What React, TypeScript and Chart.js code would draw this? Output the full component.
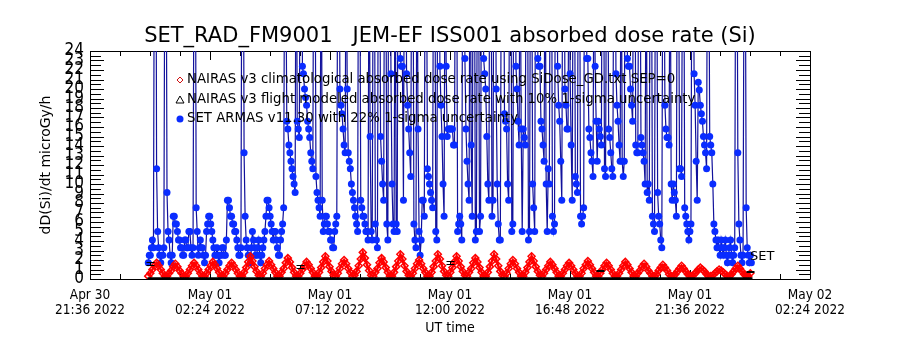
import React, { useEffect, useRef } from "react";
import { Chart, registerables } from "chart.js";

Chart.register(...registerables);

// ---------------- data ----------------
const TITLE = "SET_RAD_FM9001   JEM-EF ISS001 absorbed dose rate (Si)";
const X_TITLE = "UT time";
const Y_TITLE = "dD(Si)/dt microGy/h";

// x axis in hours since 2022-04-30 21:36 UT
const X_MIN = 0;
const X_MAX = 28.8;
const X_TICK_HOURS = [0, 4.8, 9.6, 14.4, 19.2, 24.0, 28.8];
const X_TICK_LABELS = [
  ["Apr 30", "21:36 2022"],
  ["May 01", "02:24 2022"],
  ["May 01", "07:12 2022"],
  ["May 01", "12:00 2022"],
  ["May 01", "16:48 2022"],
  ["May 01", "21:36 2022"],
  ["May 02", "02:24 2022"],
];
const X_MINOR_STEP = 1.2;
const Y_MIN = 0;
const Y_MAX = 24;
const Y_MINOR_STEP = 0.5;

const LEGEND_LABELS = [
  "NAIRAS v3 climatological absorbed dose rate using SiDose_GD.txt SEP=0",
  "NAIRAS v3 flight modeled absorbed dose rate with 10% 1-sigma uncertainty",
  "SET ARMAS v11.30 with 22% 1-sigma uncertainty",
];

// sampling (hours since axis start)
const SERIES_START_HOUR = 2.33;
const SET_STEP_HOURS = 2.5 / 60;
const NAIRAS_STEP_HOURS = 5 / 60;

// SET ARMAS measured dose rate, 2.5-minute cadence (values above 24 run off the top)
const SET_ARMAS = [
  1.7, 2.5, 2.5, 3.3, 4.1, 3.3, 45, 60, 11.6, 5.0, 3.3, 2.5, 1.7, 2.5, 2.5, 3.3, 40, 45, 9.1, 5.0, 4.1, 2.5, 1.7, 2.5,
  6.6, 6.6, 5.8, 5.8, 5.0, 4.1, 4.1, 3.3, 3.3, 2.5, 2.5, 4.1, 4.1, 3.3, 3.3, 5.0, 5.0, 3.3, 2.5, 3.3, 40, 50, 7.5, 5.0,
  2.5, 3.3, 4.1, 3.3, 3.3, 2.5, 1.7, 2.5, 5.0, 5.8, 6.6, 6.6, 5.8, 5.0, 4.1, 3.3, 2.5, 2.5, 3.3, 2.5, 1.7, 2.5, 2.5, 3.3,
  3.3, 2.5, 2.5, 4.1, 8.3, 8.3, 7.5, 6.6, 6.6, 5.8, 5.8, 5.0, 5.0, 4.1, 3.3, 2.5, 2.5, 3.3, 45, 50, 13.3, 6.6, 4.1, 3.3,
  2.5, 2.5, 1.7, 3.3, 5.0, 4.1, 3.3, 2.5, 2.5, 3.3, 4.1, 2.5, 1.7, 2.5, 3.3, 4.1, 5.0, 6.6, 8.3, 8.3, 7.5, 6.6, 5.8, 5.0,
  4.1, 5.0, 5.0, 4.1, 3.3, 2.5, 2.5, 4.1, 5.0, 5.8, 7.5, 40, 35, 16.6, 15.8, 14.1, 13.3, 12.4, 11.6, 10.8, 10.0, 9.1, 45, 16.6,
  15.8, 14.9, 40, 50, 22.4, 21.6, 20.0, 19.1, 18.3, 16.6, 15.8, 14.9, 13.3, 12.4, 11.6, 45, 40, 10.8, 9.1, 8.3, 7.5, 6.6, 45, 8.3,
  5.0, 5.8, 6.6, 6.6, 5.8, 5.0, 5.0, 4.1, 4.1, 3.3, 3.3, 5.0, 5.8, 6.6, 40, 45, 20.0, 18.3, 17.4, 15.8, 14.1, 13.3, 40, 20.0,
  13.3, 12.4, 11.6, 10.0, 9.1, 8.3, 7.5, 6.6, 5.8, 5.0, 45, 40, 8.3, 7.5, 6.6, 6.6, 5.8, 5.0, 5.0, 4.1, 40, 15.0, 5.0, 4.1,
  38, 42, 5.8, 4.1, 3.3, 42, 45, 15.0, 12.4, 10.0, 8.3, 45, 40, 5.8, 4.1, 48, 50, 21.6, 10.0, 5.8, 5.0, 40, 5.8, 5.0,
  50, 45, 23.2, 22.4, 22.4, 8.3, 42, 40, 21.6, 18.3, 15.8, 13.3, 10.8, 40, 45, 5.8, 4.1, 3.3, 40, 15.8, 5.0, 2.5, 4.1, 8.3,
  8.3, 6.6, 45, 40, 11.6, 10.8, 10.0, 9.1, 8.3, 7.5, 44, 45, 5.0, 4.1, 40, 42, 22.4, 18.3, 15.0, 10.0, 6.6, 40, 22.4, 15.0,
  15.8, 15.8, 15.8, 15.8, 15.8, 14.1, 14.1, 42, 40, 5.0, 5.8, 6.6, 5.8, 4.1, 44, 40, 23.2, 15.8, 12.4, 10.0, 8.3, 45, 14.1, 6.6,
  40, 45, 4.1, 5.0, 36, 40, 5.0, 6.6, 40, 44, 23.2, 21.6, 20.0, 15.0, 10.0, 8.3, 45, 40, 6.6, 8.3, 50, 45, 20.0, 10.0,
  5.8, 4.1, 4.1, 38, 40, 42, 17.4, 16.6, 15.8, 10.0, 8.3, 40, 45, 5.0, 5.8, 40, 42, 22.4, 20.0, 16.6, 14.1, 40, 15.8, 5.0,
  15.8, 14.9, 14.1, 44, 40, 4.1, 5.0, 38, 40, 10.0, 7.5, 5.0, 45, 50, 23.2, 22.4, 22.4, 16.6, 15.8, 14.1, 12.4, 40, 10.0, 5.0,
  11.6, 10.0, 40, 45, 6.6, 5.0, 5.8, 42, 40, 22.4, 18.3, 16.6, 12.4, 8.3, 40, 45, 20.0, 18.3, 15.8, 15.8, 40, 21.6, 14.1, 8.3,
  40, 45, 10.8, 10.0, 9.1, 42, 40, 6.6, 5.8, 6.6, 7.5, 44, 45, 23.2, 23.2, 15.8, 14.9, 13.3, 12.4, 10.8, 40, 22.4, 16.6, 12.4,
  16.6, 15.8, 15.0, 14.1, 45, 40, 11.6, 10.8, 38, 40, 15.8, 14.9, 13.3, 11.6, 10.8, 40, 45, 21.6, 18.3, 16.6, 14.1, 12.4, 40, 12.4,
  10.8, 12.4, 45, 40, 23.2, 22.4, 22.4, 20.0, 18.3, 16.6, 40, 45, 14.1, 13.3, 13.3, 42, 40, 14.9, 14.1, 13.3, 12.4, 10.0, 40, 9.1,
  10.0, 8.3, 44, 40, 6.6, 5.8, 5.0, 40, 45, 9.1, 6.6, 5.8, 4.1, 3.3, 38, 40, 18.3, 15.8, 14.9, 14.9, 14.1, 40, 10.0, 8.3,
  10.0, 9.1, 8.3, 6.6, 45, 40, 11.6, 11.6, 10.8, 40, 42, 7.5, 6.6, 5.8, 5.0, 4.1, 5.0, 5.8, 40, 45, 21.6, 18.3, 12.4, 8.3,
  20.7, 19.9, 18.3, 17.4, 16.6, 15.0, 14.1, 13.3, 11.6, 45, 40, 15.0, 14.1, 13.3, 10.0, 5.8, 5.0, 4.1, 3.3, 4.1, 3.3, 2.5, 4.1, 3.3,
  2.5, 3.3, 4.1, 2.5, 1.7, 2.5, 3.3, 4.1, 2.5, 1.7, 2.5, 3.3, 40, 45, 13.3, 5.8, 4.1, 2.5, 1.7, 2.5, 36, 42, 7.5, 3.3,
  2.5, 1.7, 2.5, 1.7,
];

// NAIRAS v3 climatological dose rate, 5-minute cadence (orbital oscillation)
const NAIRAS_CLIM = [
  0.3, 0.6, 1.0, 1.4, 1.7, 1.4, 1.0, 0.6, 0.3,
  0.3, 0.6, 0.9, 1.3, 1.6, 1.3, 0.9, 0.6, 0.3,
  0.3, 0.6, 1.0, 1.4, 1.7, 1.4, 1.0, 0.6, 0.3,
  0.3, 0.6, 1.0, 1.4, 1.8, 1.5, 1.1, 0.7, 0.3,
  0.3, 0.6, 1.0, 1.4, 1.7, 1.4, 1.0, 0.6, 0.3,
  0.3, 0.7, 1.2, 1.8, 2.4, 1.9, 1.3, 0.8, 0.4,
  0.3, 0.6, 1.1, 1.5, 1.9, 1.5, 1.1, 0.7, 0.3,
  0.3, 0.7, 1.1, 1.7, 2.2, 1.8, 1.2, 0.7, 0.3,
  0.3, 0.6, 1.0, 1.4, 1.8, 1.5, 1.1, 0.7, 0.3,
  0.3, 0.7, 1.2, 1.8, 2.4, 1.9, 1.3, 0.8, 0.4,
  0.3, 0.6, 1.1, 1.6, 2.0, 1.6, 1.1, 0.7, 0.3,
  0.4, 0.8, 1.4, 2.1, 2.8, 2.2, 1.5, 0.9, 0.4,
  0.3, 0.7, 1.1, 1.7, 2.2, 1.8, 1.2, 0.7, 0.3,
  0.3, 0.7, 1.3, 1.9, 2.6, 2.1, 1.4, 0.8, 0.4,
  0.3, 0.6, 1.1, 1.6, 2.0, 1.6, 1.1, 0.7, 0.3,
  0.3, 0.7, 1.3, 1.9, 2.6, 2.1, 1.4, 0.8, 0.4,
  0.3, 0.7, 1.2, 1.8, 2.4, 1.9, 1.3, 0.8, 0.4,
  0.3, 0.7, 1.1, 1.7, 2.2, 1.8, 1.2, 0.7, 0.3,
  0.3, 0.7, 1.3, 1.9, 2.6, 2.1, 1.4, 0.8, 0.4,
  0.3, 0.6, 1.1, 1.6, 2.0, 1.6, 1.1, 0.7, 0.3,
  0.3, 0.7, 1.2, 1.8, 2.4, 1.9, 1.3, 0.8, 0.4,
  0.3, 0.6, 1.0, 1.4, 1.8, 1.5, 1.1, 0.7, 0.3,
  0.3, 0.6, 1.0, 1.4, 1.7, 1.4, 1.0, 0.6, 0.3,
  0.3, 0.6, 1.1, 1.5, 1.9, 1.5, 1.1, 0.7, 0.3,
  0.3, 0.6, 1.0, 1.4, 1.7, 1.4, 1.0, 0.6, 0.3,
  0.3, 0.6, 1.0, 1.4, 1.8, 1.5, 1.1, 0.7, 0.3,
  0.3, 0.6, 0.9, 1.3, 1.6, 1.3, 0.9, 0.6, 0.3,
  0.3, 0.5, 0.9, 1.2, 1.5, 1.2, 0.9, 0.5, 0.3,
  0.3, 0.5, 0.8, 1.1, 1.4, 1.1, 0.8, 0.5, 0.3,
  0.3, 0.5, 0.7, 1.0, 1.2, 1.0, 0.8, 0.5, 0.3,
  0.3, 0.4, 0.6, 0.8, 1.0, 0.9, 0.7, 0.5, 0.3,
  0.3, 0.5, 0.8, 1.1, 1.4, 1.1, 0.8, 0.5, 0.3,
  0.3, 0.6,
];

// NAIRAS v3 flight modelled dose rate: near-zero trace plus sparse points with error bars
const FLIGHT_TRACE_HOURS = [2.3, 26.5];
const FLIGHT_TRACE = [0.06, 0.06];
const FLIGHT_POINT_HOURS = [2.4, 8.4, 14.4, 20.4, 26.4];
const FLIGHT_POINTS = [1.6, 1.3, 1.7, 0.9, 0.8];
const FLIGHT_REL_UNC = 0.1;

const SET_LABEL = "SET";
const SET_LABEL_HOUR = 26.4;
const SET_LABEL_VALUE = 2.4;

// ---------------- style ----------------
const FONT_NARROW = "'Liberation Sans Narrow', 'DejaVu Sans Condensed', 'Liberation Sans', sans-serif";
const FONT_WIDE = "'DejaVu Sans', 'Liberation Sans', sans-serif";
const BLUE_POINT = "#0a2cff";
const BLUE_LINE = "#12129c";
const RED = "#ff0000";
const BLACK = "#000000";

const toSeries = (vals: number[], step: number) =>
  vals.map((v, i) => ({ x: SERIES_START_HOUR + i * step, y: v }));

const framePlugin = {
  id: "idlFrame",
  beforeDatasetsDraw(chart: any) {
    const { ctx, chartArea, scales } = chart;
    const { left, right, top, bottom } = chartArea;
    const x = scales.x;
    const y = scales.y;
    ctx.save();
    ctx.strokeStyle = BLACK;
    ctx.lineWidth = 1;
    ctx.beginPath();
    ctx.rect(Math.round(left) + 0.5, Math.round(top) + 0.5, Math.round(right - left), Math.round(bottom - top));
    ctx.stroke();
    ctx.beginPath();
    for (let v = Y_MIN; v <= Y_MAX + 1e-6; v += Y_MINOR_STEP) {
      const py = Math.round(y.getPixelForValue(v)) + 0.5;
      const len = Math.abs(v - Math.round(v)) < 1e-6 ? 14 : 11;
      ctx.moveTo(left, py);
      ctx.lineTo(left + len, py);
      ctx.moveTo(right, py);
      ctx.lineTo(right - len, py);
    }
    for (let h = X_MIN; h <= X_MAX + 1e-6; h += X_MINOR_STEP) {
      const px = Math.round(x.getPixelForValue(h)) + 0.5;
      const major = X_TICK_HOURS.some((t) => Math.abs(t - h) < 1e-6);
      const len = major ? 9 : 5;
      ctx.moveTo(px, bottom);
      ctx.lineTo(px, bottom - len);
      ctx.moveTo(px, top);
      ctx.lineTo(px, top + len);
    }
    ctx.stroke();
    ctx.restore();
  },
  afterDatasetsDraw(chart: any) {
    const { ctx, chartArea, scales } = chart;
    const x = scales.x;
    const y = scales.y;
    ctx.save();
    // error bars of the flight modelled points
    ctx.strokeStyle = BLACK;
    ctx.lineWidth = 1;
    ctx.beginPath();
    FLIGHT_POINT_HOURS.forEach((h, i) => {
      const v = FLIGHT_POINTS[i];
      const px = Math.round(x.getPixelForValue(h)) + 0.5;
      const y1 = Math.round(y.getPixelForValue(v * (1 + FLIGHT_REL_UNC))) + 0.5;
      const y2 = Math.round(y.getPixelForValue(v * (1 - FLIGHT_REL_UNC))) + 0.5;
      ctx.moveTo(px, y1);
      ctx.lineTo(px, y2);
      ctx.moveTo(px - 4, y1);
      ctx.lineTo(px + 4, y1);
      ctx.moveTo(px - 4, y2);
      ctx.lineTo(px + 4, y2);
    });
    ctx.stroke();

    // legend inside the plot
    ctx.font = `13.3px ${FONT_WIDE}`;
    ctx.textBaseline = "middle";
    ctx.textAlign = "left";
    const lx = chartArea.left + 90;
    const rows = [chartArea.top + 29, chartArea.top + 49, chartArea.top + 68];
    ctx.strokeStyle = "#d01010";
    ctx.beginPath();
    ctx.moveTo(lx, rows[0] - 3);
    ctx.lineTo(lx + 3, rows[0]);
    ctx.lineTo(lx, rows[0] + 3);
    ctx.lineTo(lx - 3, rows[0]);
    ctx.closePath();
    ctx.stroke();
    ctx.strokeStyle = BLACK;
    ctx.beginPath();
    ctx.moveTo(lx, rows[1] - 4);
    ctx.lineTo(lx + 4, rows[1] + 3);
    ctx.lineTo(lx - 4, rows[1] + 3);
    ctx.closePath();
    ctx.stroke();
    ctx.fillStyle = BLUE_POINT;
    ctx.beginPath();
    ctx.arc(lx, rows[2], 3.5, 0, Math.PI * 2);
    ctx.fill();
    ctx.fillStyle = BLACK;
    LEGEND_LABELS.forEach((t, i) => ctx.fillText(t, lx + 7, rows[i]));

    // SET label at the end of the measured series
    ctx.font = `13px ${FONT_WIDE}`;
    ctx.fillText(SET_LABEL, x.getPixelForValue(SET_LABEL_HOUR), y.getPixelForValue(SET_LABEL_VALUE));
    ctx.restore();
  },
};

export default function App() {
  const ref = useRef<HTMLCanvasElement | null>(null);

  useEffect(() => {
    if (!ref.current) return;
    const chart = new Chart(ref.current, {
      type: "line",
      data: {
        datasets: [
          {
            label: LEGEND_LABELS[2],
            data: toSeries(SET_ARMAS, SET_STEP_HOURS),
            borderColor: BLUE_LINE,
            borderWidth: 1.2,
            pointStyle: "circle",
            pointRadius: 3.5,
            pointBackgroundColor: BLUE_POINT,
            pointBorderColor: BLUE_POINT,
            pointBorderWidth: 0,
            tension: 0,
            order: 3,
          },
          {
            label: LEGEND_LABELS[0],
            data: toSeries(NAIRAS_CLIM, NAIRAS_STEP_HOURS),
            borderColor: RED,
            borderWidth: 2.5,
            pointStyle: "rectRot",
            pointRadius: 3.5,
            pointBackgroundColor: "rgba(0,0,0,0)",
            pointBorderColor: RED,
            pointBorderWidth: 1.5,
            tension: 0,
            order: 2,
          },
          {
            label: LEGEND_LABELS[1],
            data: FLIGHT_TRACE_HOURS.map((h, i) => ({ x: h, y: FLIGHT_TRACE[i] })),
            borderColor: BLACK,
            borderWidth: 2.5,
            pointRadius: 0,
            tension: 0,
            order: 1,
          },
          {
            label: LEGEND_LABELS[1] + " (points)",
            data: FLIGHT_POINT_HOURS.map((h, i) => ({ x: h, y: FLIGHT_POINTS[i] })),
            showLine: false,
            borderColor: BLACK,
            pointRadius: 0,
            order: 0,
          },
        ],
      },
      options: {
        animation: false,
        responsive: false,
        maintainAspectRatio: false,
        layout: { padding: 0 },
        plugins: {
          legend: { display: false },
          tooltip: { enabled: false },
          title: {
            display: true,
            text: TITLE,
            color: BLACK,
            font: { family: FONT_WIDE, size: 21, weight: "normal" },
            padding: { top: 24.4, bottom: 1.4 },
          },
        },
        scales: {
          x: {
            type: "linear",
            position: "bottom",
            min: X_MIN,
            max: X_MAX,
            grid: { display: false, drawTicks: false },
            border: { display: false },
            afterBuildTicks: (scale: any) => {
              scale.ticks = X_TICK_HOURS.map((v) => ({ value: v }));
            },
            afterFit: (scale: any) => {
              scale.height = 71;
            },
            ticks: {
              autoSkip: false,
              maxRotation: 0,
              padding: 9.5,
              color: BLACK,
              font: { family: FONT_NARROW, size: 13.5, lineHeight: 1.1 },
              callback: (_v: any, i: number) => X_TICK_LABELS[i],
            },
            title: {
              display: true,
              text: X_TITLE,
              color: BLACK,
              font: { family: FONT_NARROW, size: 14 },
              padding: { top: 0, bottom: 13.6 },
            },
          },
          y: {
            type: "linear",
            position: "left",
            min: Y_MIN,
            max: Y_MAX,
            grid: { display: false, drawTicks: false },
            border: { display: false },
            afterFit: (scale: any) => {
              scale.width = 90;
            },
            ticks: {
              stepSize: 1,
              autoSkip: false,
              padding: 6,
              color: BLACK,
              font: { family: FONT_NARROW, size: 17 },
            },
            title: {
              display: true,
              text: Y_TITLE,
              color: BLACK,
              font: { family: FONT_WIDE, size: 14 },
              padding: { top: 37.6, bottom: 0 },
            },
          },
          yRight: {
            type: "linear",
            position: "right",
            min: Y_MIN,
            max: Y_MAX,
            grid: { display: false, drawTicks: false },
            border: { display: false },
            ticks: { display: false },
            afterFit: (scale: any) => {
              scale.width = 90;
            },
          },
        },
      },
      plugins: [framePlugin],
    });
    return () => chart.destroy();
  }, []);

  return (
    <div style={{ position: "fixed", left: 0, top: 0, width: 900, height: 350, background: "#fff" }}>
      <canvas ref={ref} width={900} height={350} style={{ width: 900, height: 350 }} />
    </div>
  );
}
